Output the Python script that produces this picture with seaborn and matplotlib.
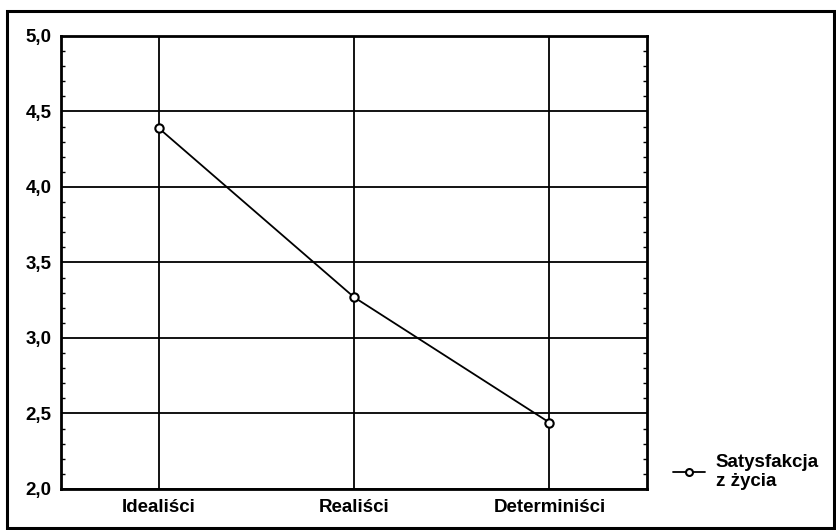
import pandas as pd
import seaborn as sns
import matplotlib.pyplot as plt
from matplotlib.patches import Rectangle
from matplotlib.ticker import MultipleLocator, FormatStrFormatter

groups = ["Idealiści", "Realiści", "Determiniści"]
satysfakcja = [4.39, 3.27, 2.44]
series_label = "Satysfakcja\nz życia"

df = pd.DataFrame({"grupa": groups, "wynik": satysfakcja})

sns.set_theme(style="white")
plt.rcParams['font.family'] = ['Liberation Sans', 'DejaVu Sans']
plt.rcParams['font.weight'] = 'bold'

fig = plt.figure(figsize=(8.36, 5.30), dpi=100)
ax = fig.add_axes([0.073, 0.0774, 0.701, 0.8547])

sns.lineplot(data=df, x="grupa", y="wynik", sort=False, ax=ax, color="black",
             linewidth=1.3, marker="o", markersize=6, markerfacecolor="white",
             markeredgecolor="black", markeredgewidth=1.5, label=series_label)

ax.set_xlim(-0.5, 2.5)
ax.set_ylim(2.0, 5.0)
ax.yaxis.set_major_locator(MultipleLocator(0.5))
ax.yaxis.set_minor_locator(MultipleLocator(0.1))
ax.yaxis.set_major_formatter(FormatStrFormatter('%.1f'))
ax.set_yticklabels([f"{v:.1f}".replace('.', ',') for v in ax.get_yticks()])
ax.grid(True, color="black", linewidth=1.3)
ax.set_axisbelow(True)
for s in ax.spines.values():
    s.set_color("black")
    s.set_linewidth(2)
ax.tick_params(axis='both', which='major', length=0, labelsize=13.5, pad=7, colors="black")
ax.tick_params(axis='y', which='minor', length=3, direction='in', left=True, right=True, width=1, color="black")
ax.set_xlabel("")
ax.set_ylabel("")

leg = ax.legend(loc="lower left", bbox_to_anchor=(1.015, -0.04), frameon=False,
                fontsize=13.5, handlelength=1.7, handletextpad=0.6, labelspacing=0.2)
for line in leg.get_lines():
    line.set_markersize(5)
for t in leg.get_texts():
    t.set_color("black")
    t.set_linespacing(1.2)

fig.add_artist(Rectangle((0.008, 0.004), 0.99, 0.975, transform=fig.transFigure,
                         fill=False, edgecolor="black", linewidth=2.2))

fig.savefig("out.png", dpi=100)
